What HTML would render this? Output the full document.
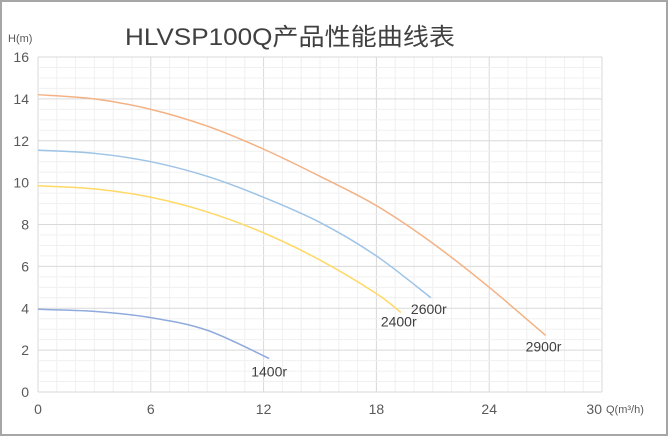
<!DOCTYPE html>
<html><head><meta charset="utf-8"><style>
html,body{margin:0;padding:0;background:#fff;}
svg{display:block;font-family:"Liberation Sans","Noto Sans CJK SC",sans-serif;}
</style></head><body>
<svg id="chart" width="668" height="436">
<rect x="1" y="1" width="666" height="434" fill="#fff" stroke="#a6a6a6" stroke-width="2"/>
<text x="125" y="45" font-size="24" fill="#404040" textLength="330" lengthAdjust="spacingAndGlyphs">HLVSP100Q产品性能曲线表</text>
<text x="8" y="42" font-size="11" fill="#595959">H(m)</text>
<text x="606" y="413" font-size="11" fill="#595959">Q(m³/h)</text>
<g id="grid"></g><g id="ticks"></g><g id="series"></g>
</svg>
<script>
const xTicks=[0,6,12,18,24,30];
const yTicks=[0,2,4,6,8,10,12,14,16];
const q2900=[0,3,6,9,12,15,18,21,24,27];
const h2900=[14.2,14.0,13.5,12.7,11.6,10.3,8.9,7.1,5.0,2.7];
const q2600=[0,3,6,9,12,15,18,20.9];
const h2600=[11.55,11.4,11.0,10.3,9.3,8.1,6.5,4.5];
const q2400=[0,3,6,9,12,15,18,19.3];
const h2400=[9.85,9.7,9.3,8.6,7.6,6.3,4.7,3.8];
const q1400=[0,3,6,9,12.3];
const h1400=[3.95,3.85,3.55,2.95,1.6];
const labels=["2900r","2600r","2400r","1400r"];
const X0=38,X1=602,Y0=392,Y1=57;
const sx=v=>X0+(v/30)*(X1-X0);
const sy=v=>Y0-(v/16)*(Y0-Y1);
const NS="http://www.w3.org/2000/svg";
function mk(t,a,p){const e=document.createElementNS(NS,t);for(const k in a)e.setAttribute(k,a[k]);p.appendChild(e);return e;}
const grid=document.getElementById('grid'),ticks=document.getElementById('ticks'),ser=document.getElementById('series');
for(let i=0;i<=30;i++){const major=i%6===0;const l=mk('line',{x1:sx(i),x2:sx(i),y1:Y1,y2:Y0,stroke:major?'#d9d9d9':'#f0f0f0','stroke-width':1},grid);

}
for(let i=0;i<=32;i++){const v=i/2;const major=i%4===0;const l=mk('line',{x1:X0,x2:X1,y1:sy(v),y2:sy(v),stroke:major?'#d9d9d9':'#f0f0f0','stroke-width':1},grid);

}
xTicks.forEach(v=>{const t=mk('text',{x:sx(v),y:414,'text-anchor':v===30?'end':'middle','font-size':14,fill:'#595959'},ticks);t.textContent=v;

});
yTicks.forEach(v=>{const t=mk('text',{x:29,y:sy(v)+5,'text-anchor':'end','font-size':14,fill:'#595959'},ticks);t.textContent=v;

});
function path(qs,hs){const p=qs.map((q,i)=>[sx(q),sy(hs[i])]);let d=`M${p[0][0]},${p[0][1]}`;
for(let i=0;i<p.length-1;i++){const a=p[Math.max(0,i-1)],b=p[i],c=p[i+1],e=p[Math.min(p.length-1,i+2)];
d+=` C${b[0]+(c[0]-a[0])/6},${b[1]+(c[1]-a[1])/6} ${c[0]-(e[0]-b[0])/6},${c[1]-(e[1]-b[1])/6} ${c[0]},${c[1]}`;}return d;}
const sets=[[q2900,h2900,'#f4b183',-20,16],[q2600,h2600,'#9dc3e6',-20,16],[q2400,h2400,'#ffd966',-20,14],[q1400,h1400,'#8faadc',-18,18]];
sets.forEach((s,i)=>{const l=mk('path',{d:path(s[0],s[1]),fill:'none',stroke:s[2],'stroke-width':1.5},ser);


const n=s[0].length-1;const t=mk('text',{x:sx(s[0][n])+s[3],y:sy(s[1][n])+s[4],'font-size':14,fill:'#404040'},ser);t.textContent=labels[i];

});
</script>
</body></html>
